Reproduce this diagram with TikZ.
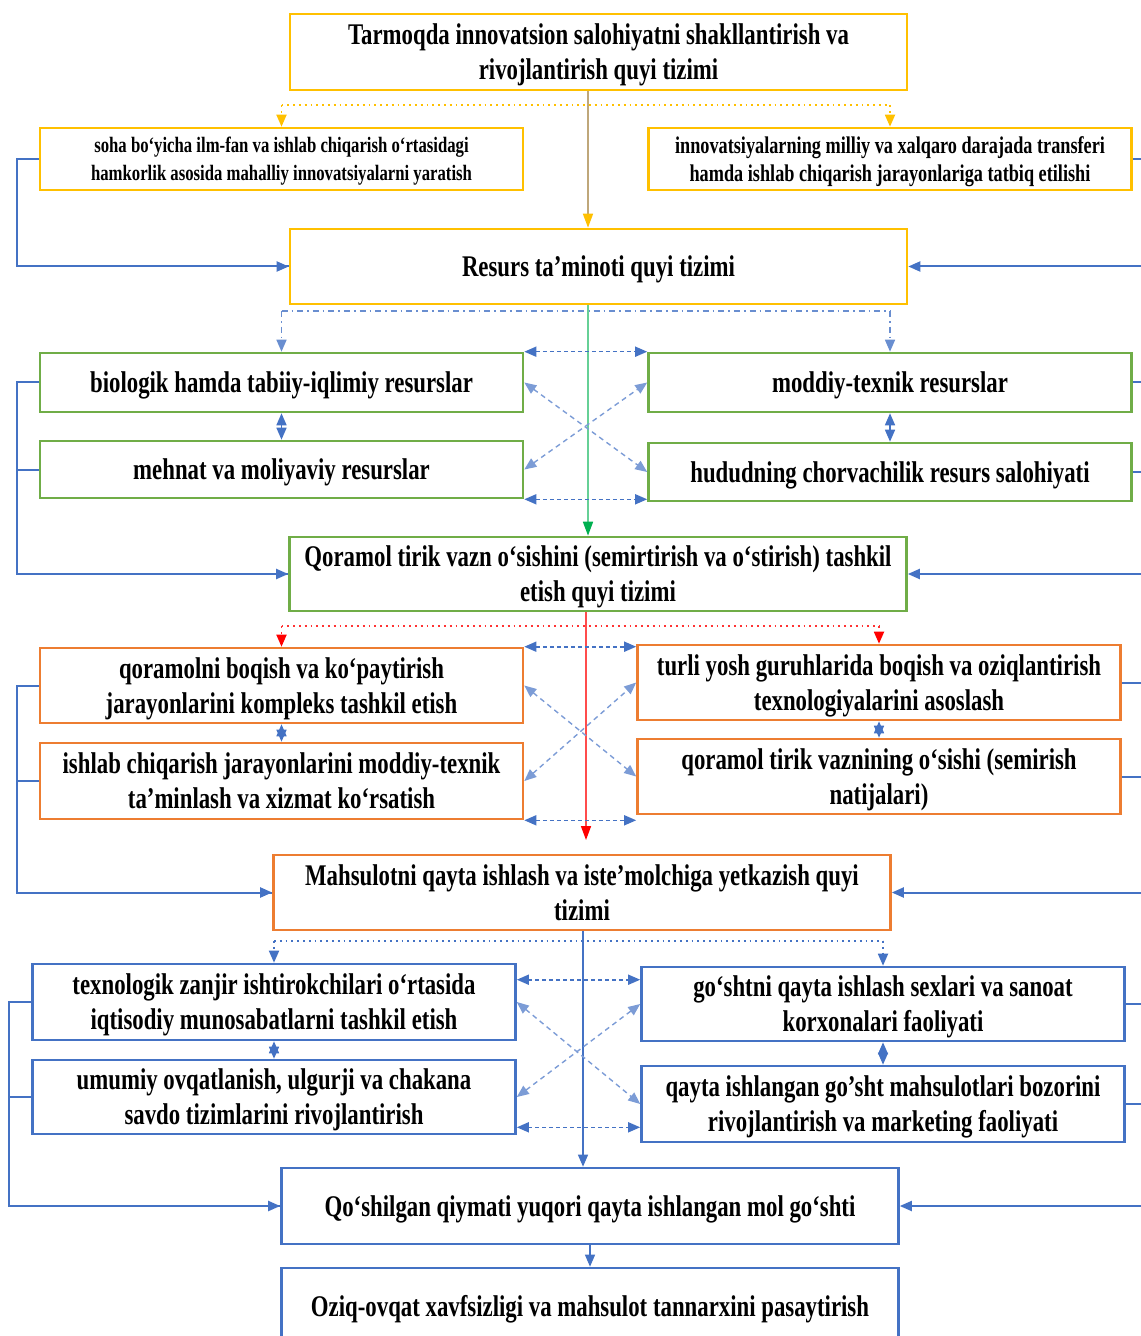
\documentclass[tikz,border=0pt]{standalone}
\usepackage{fontspec}
\setmainfont{Liberation Serif}[FakeStretch=0.76]
\usepackage{tikz}
\usetikzlibrary{arrows.meta}
\definecolor{ylw}{HTML}{FFC000}
\definecolor{grn}{HTML}{70AD47}
\definecolor{org}{HTML}{ED7D31}
\definecolor{blu}{HTML}{4472C4}
\definecolor{linetan}{HTML}{BFA77A}
\definecolor{lgreen}{HTML}{00B050}

\begin{document}
\begin{tikzpicture}[x=0.5pt,y=-0.5pt,
    box/.style={draw=#1,line width=1.3pt,inner sep=0pt,align=center,text depth=0pt,
        font=\bfseries\fontsize{15}{17.5}\selectfont},
    wide/.style={minimum width=308.5pt,minimum height=#1},
    half/.style={minimum width=241.5pt,minimum height=#1},
    small/.style={font=\bfseries\fontsize{#1}{14}\selectfont},
    tip/.style={-{Triangle[length=6pt,width=5pt]}},
    both/.style={{Triangle[length=6pt,width=5pt]}-{Triangle[length=6pt,width=5pt]}},
    link/.style={blu,line width=0.8pt,dash pattern=on 2pt off 1.5pt,both},
    cross/.style={blu!70,line width=0.7pt,dash pattern=on 2.5pt off 2pt,both},
    side/.style={blu,line width=1pt}]
\useasboundingbox (0,0) rectangle (1140,1336);

% innovatsiya
\node[box=ylw, wide=38pt] (title) at (598.5,52) {Tarmoqda innovatsion salohiyatni shakllantirish va\\ rivojlantirish quyi tizimi};
\node[box=ylw, half=31pt, small=11] (soha) at (281.5,159) {soha bo‘yicha ilm-fan va ishlab chiqarish o‘rtasidagi\\ hamkorlik asosida mahalliy innovatsiyalarni yaratish};
\node[box=ylw, half=31pt, small=12] (inno) at (890,159) {innovatsiyalarning milliy va xalqaro darajada transferi\\ hamda ishlab chiqarish jarayonlariga tatbiq etilishi};
\node[box=ylw, wide=37.5pt] (resurs) at (598.5,266.5) {Resurs ta’minoti quyi tizimi};

% resurslar
\node[box=grn, half=29.5pt] (bio) at (281.5,382.5) {biologik hamda tabiiy-iqlimiy resurslar};
\node[box=grn, half=29.5pt] (moddiy) at (890,382.5) {moddiy-texnik resurslar};
\node[box=grn, half=28.5pt] (mehnat) at (281.5,469.5) {mehnat va moliyaviy resurslar};
\node[box=grn, half=29pt] (hudud) at (890,472) {hududning chorvachilik resurs salohiyati};
\node[box=grn, wide=37pt] (qoramol) at (598,574) {Qoramol tirik vazn o‘sishini (semirtirish va o‘stirish) tashkil\\ etish quyi tizimi};

% semirtirish
\node[box=org, half=37.5pt] (boqish) at (281.5,685.5) {qoramolni boqish va ko‘paytirish\\ jarayonlarini kompleks tashkil etish};
\node[box=org, half=37.5pt] (turli) at (879,682.5) {turli yosh guruhlarida boqish va oziqlantirish\\ texnologiyalarini asoslash};
\node[box=org, half=38pt] (taminlash) at (281.5,781) {ishlab chiqarish jarayonlarini moddiy-texnik\\ ta’minlash va xizmat ko‘rsatish};
\node[box=org, half=37.5pt] (vazn) at (879,776.5) {qoramol tirik vaznining o‘sishi (semirish\\ natijalari)};
\node[box=org, wide=37.5pt] (mahsulot) at (582,892.5) {Mahsulotni qayta ishlash va iste’molchiga yetkazish quyi\\ tizimi};

% qayta ishlash
\node[box=blu, half=38pt] (zanjir) at (274,1002) {texnologik zanjir ishtirokchilari o‘rtasida\\ iqtisodiy munosabatlarni tashkil etish};
\node[box=blu, half=37pt] (sexlar) at (883,1004) {go‘shtni qayta ishlash sexlari va sanoat\\ korxonalari faoliyati};
\node[box=blu, half=37pt] (savdo) at (274,1097) {umumiy ovqatlanish, ulgurji va chakana\\ savdo tizimlarini rivojlantirish};
\node[box=blu, half=38pt] (bozor) at (883,1104) {qayta ishlangan go’sht mahsulotlari bozorini\\ rivojlantirish va marketing faoliyati};
\node[box=blu, wide=38pt] (qiymat) at (590,1206) {Qo‘shilgan qiymati yuqori qayta ishlangan mol go‘shti};
\node[box=blu, wide=38pt] (oziq) at (590,1306) {Oziq-ovqat xavfsizligi va mahsulot tannarxini pasaytirish};

\coordinate (ysplit) at (0,105);
\coordinate (gsplit) at (0,311);
\coordinate (rsplit) at (0,626);
\coordinate (bsplit) at (0,941);
\coordinate (spineA) at (588,0);
\coordinate (spineB) at (586,0);
\coordinate (spineC) at (583,0);
\coordinate (redend) at (586,840);
\coordinate (railA) at (17,0);
\coordinate (railB) at (9,0);
\coordinate (edge) at (1145,0);

% yuqori tarmoq
\draw[ylw,dotted,line width=0.9pt] (soha.north |- ysplit) -- (inno.north |- ysplit);
\draw[ylw,dotted,line width=0.9pt,tip] (soha.north |- ysplit) -- (soha.north);
\draw[ylw,dotted,line width=0.9pt,tip] (inno.north |- ysplit) -- (inno.north);
\draw[linetan,line width=0.8pt,-{Triangle[length=7pt,width=5pt,color=ylw]}] (title.south -| spineA) -- (resurs.north -| spineA);

\draw[blu!80,line width=0.8pt,dash dot] (bio.north |- gsplit) -- (moddiy.north |- gsplit);
\draw[blu!80,line width=0.8pt,dash dot,tip] (bio.north |- gsplit) -- (bio.north);
\draw[blu!80,line width=0.8pt,dash dot,tip] (moddiy.north |- gsplit) -- (moddiy.north);
\draw[lgreen!60,line width=0.8pt,-{Triangle[length=7pt,width=5pt,color=lgreen]}] (resurs.south -| spineA) -- (qoramol.north -| spineA);

\draw[red!80,dotted,line width=0.9pt] (boqish.north |- rsplit) -- (turli.north |- rsplit);
\draw[red!80,dotted,line width=0.9pt,-{Triangle[length=6pt,width=5pt,color=red]}] (boqish.north |- rsplit) -- (boqish.north);
\draw[red!80,dotted,line width=0.9pt,-{Triangle[length=6pt,width=5pt,color=red]}] (turli.north |- rsplit) -- (turli.north);
\draw[red!70,line width=0.8pt,-{Triangle[length=7pt,width=5pt,color=red]}] (qoramol.south -| spineB) -- (redend);

\draw[blu,dotted,line width=0.9pt] (zanjir.north |- bsplit) -- (sexlar.north |- bsplit);
\draw[blu,dotted,line width=0.9pt,tip] (zanjir.north |- bsplit) -- (zanjir.north);
\draw[blu,dotted,line width=0.9pt,tip] (sexlar.north |- bsplit) -- (sexlar.north);
\draw[blu,line width=0.6pt,tip] (mahsulot.south -| spineC) -- (qiymat.north -| spineC);
\draw[blu,line width=0.6pt,tip] (qiymat.south) -- (oziq.north);

% ichki aloqalar
\draw[blu,line width=0.8pt,both] (bio.south) -- (mehnat.north);
\draw[blu,line width=0.8pt,both] (moddiy.south) -- (hudud.north);
\draw[link] (bio.north east) -- (moddiy.north west);
\draw[link] (mehnat.south east) -- (mehnat.south east -| hudud.west);
\draw[cross] (bio.east) -- (hudud.west);
\draw[cross] (mehnat.east) -- (moddiy.west);

\draw[blu,line width=0.8pt,both] (boqish.south) -- (taminlash.north);
\draw[blu,line width=0.8pt,both] (turli.south) -- (vazn.north);
\draw[link] (boqish.north east) -- (boqish.north east -| turli.west);
\draw[link] (taminlash.south east) -- (taminlash.south east -| vazn.west);
\draw[cross] (boqish.east) -- (vazn.west);
\draw[cross] (taminlash.east) -- (turli.west);

\draw[blu,line width=0.8pt,both] (zanjir.south) -- (savdo.north);
\draw[blu,line width=0.8pt,both] (sexlar.south) -- (bozor.north);
\draw[link] ([yshift=-8.5pt]zanjir.north east) -- ([yshift=-8.5pt]zanjir.north east -| sexlar.west);
\draw[link] ([yshift=4pt]savdo.south east) -- ([yshift=4pt]savdo.south east -| bozor.west);
\draw[cross] (zanjir.east) -- (bozor.west);
\draw[cross] (savdo.east) -- (sexlar.west);

% chap tomondagi qaytish
\draw[side] (soha.west) -- (soha.west -| railA) |- (resurs.west);
\draw[side,tip] (resurs.west -| railA) -- (resurs.west);
\draw[side] (bio.west) -- (bio.west -| railA) |- (qoramol.west);
\draw[side,tip] (qoramol.west -| railA) -- (qoramol.west);
\draw[side] (mehnat.west) -- (mehnat.west -| railA);
\draw[side] (boqish.west) -- (boqish.west -| railA) |- (mahsulot.west);
\draw[side,tip] (mahsulot.west -| railA) -- (mahsulot.west);
\draw[side] (taminlash.west) -- (taminlash.west -| railA);
\draw[side] (zanjir.west) -- (zanjir.west -| railB) |- (qiymat.west);
\draw[side,tip] (qiymat.west -| railB) -- (qiymat.west);
\draw[side] (savdo.west) -- (savdo.west -| railB);

% o'ng tomon
\draw[side] (inno.east) -- (inno.east -| edge);
\draw[side,tip] (resurs.east -| edge) -- (resurs.east);
\draw[side] (moddiy.east) -- (moddiy.east -| edge);
\draw[side] (hudud.east) -- (hudud.east -| edge);
\draw[side,tip] (qoramol.east -| edge) -- (qoramol.east);
\draw[side] (turli.east) -- (turli.east -| edge);
\draw[side] (vazn.east) -- (vazn.east -| edge);
\draw[side,tip] (mahsulot.east -| edge) -- (mahsulot.east);
\draw[side] (sexlar.east) -- (sexlar.east -| edge);
\draw[side] (bozor.east) -- (bozor.east -| edge);
\draw[side,tip] (qiymat.east -| edge) -- (qiymat.east);
\end{tikzpicture}
\end{document}
